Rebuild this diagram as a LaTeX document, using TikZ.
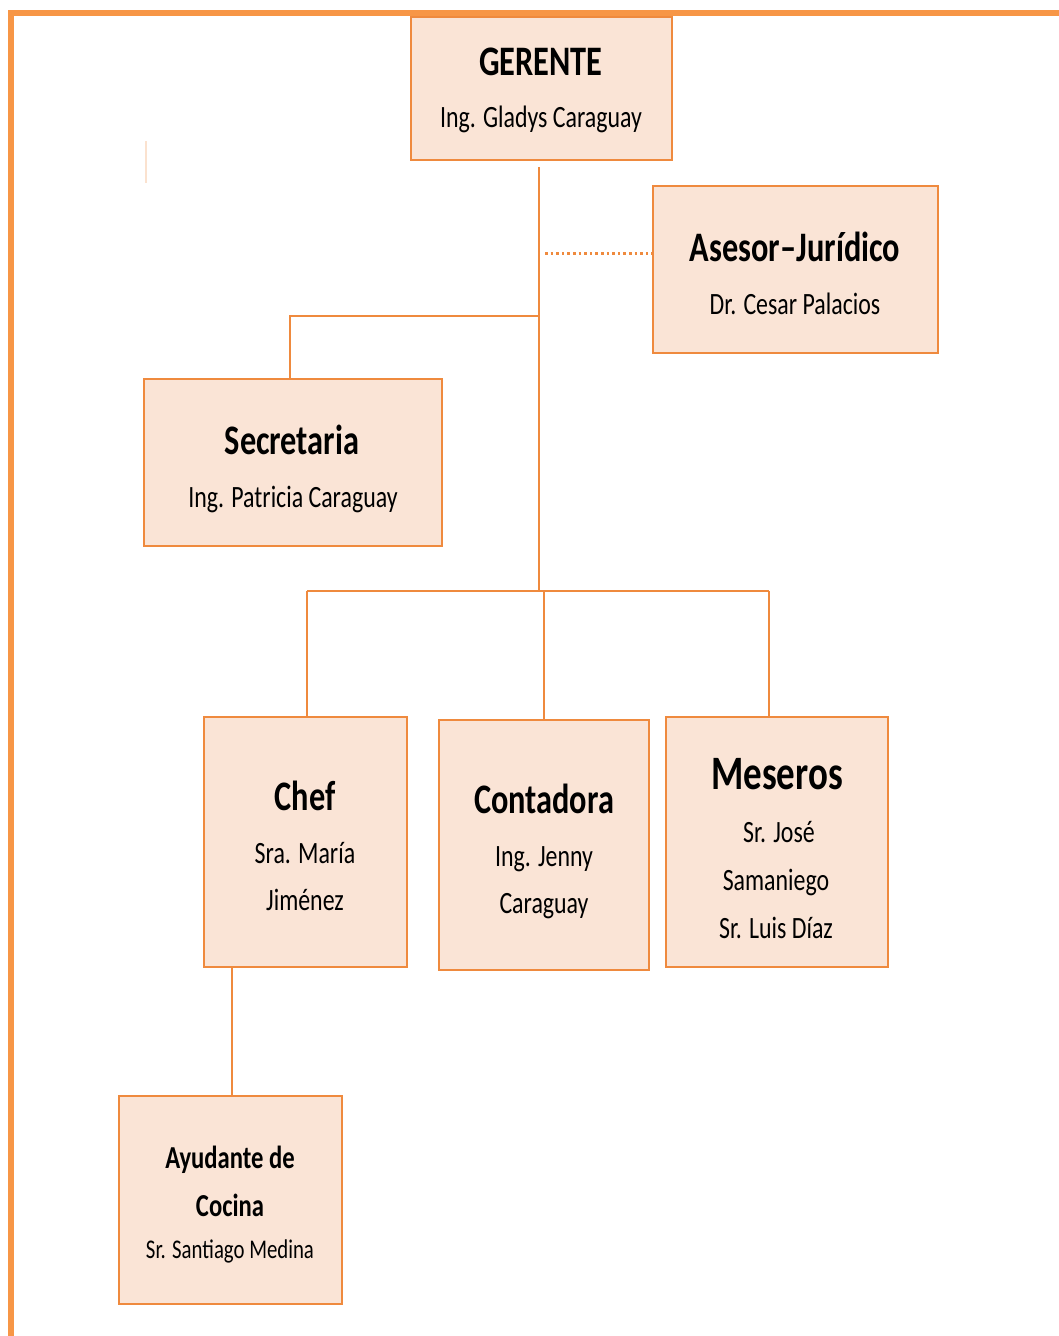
\documentclass[tikz,border=0pt]{standalone}
\usepackage{fontspec}
\setmainfont[FakeStretch=0.77]{Carlito}
\definecolor{frame}{HTML}{F79646}
\definecolor{edge}{HTML}{EF8A3E}
\definecolor{boxfill}{HTML}{FAE4D6}
\definecolor{faint}{HTML}{FBE2CF}
\begin{document}
\begin{tikzpicture}[x=1pt,y=-1pt,
  orgbox/.style={draw=edge,fill=boxfill,line width=2.5pt,inner sep=0pt},
  link/.style={draw=edge,line width=2.5pt},
  dotlink/.style={draw=edge,line width=3pt,dash pattern=on 2.6pt off 3pt},
  ttl/.style={anchor=base,inner sep=0pt,font=\fontsize{42}{48}\selectfont\bfseries},
  nm/.style={anchor=base,inner sep=0pt,font=\fontsize{31}{36}\selectfont}]
\useasboundingbox (0,0) rectangle (1059,1336);
% outer frame
\draw[frame,line width=6pt] (11,1336) -- (11,13) -- (1059,13);
\draw[faint,line width=1.5pt] (146,141) -- (146,183);
% boxes
\node[orgbox,minimum width=261pt,minimum height=143pt] (ger) at (541.5,88.5) {};
\node[orgbox,minimum width=285pt,minimum height=167pt] (ase) at (795.5,269.5) {};
\node[orgbox,minimum width=298pt,minimum height=167pt] (sec) at (293,462.5) {};
\node[orgbox,minimum width=203pt,minimum height=250pt] (chef) at (305.5,842) {};
\node[orgbox,minimum width=210pt,minimum height=250pt] (cont) at (544,845) {};
\node[orgbox,minimum width=222pt,minimum height=250pt] (mes) at (777,842) {};
\node[orgbox,minimum width=223pt,minimum height=208pt] (ayu) at (230.5,1200) {};
% texts
\node[ttl] (gerT) at (541,75) {GERENTE};
\node[nm] (gerN) at (541,127) {Ing. Gladys Caraguay};
\node[ttl] (aseT) at (795,261) {Asesor–Jurídico};
\node[nm] (aseN) at (795,314) {Dr. Cesar Palacios};
\node[ttl] (secT) at (292,454) {Secretaria};
\node[nm] (secN) at (293,507) {Ing. Patricia Caraguay};
\node[ttl] (chefT) at (305,810) {Chef};
\node[nm] (chefN1) at (305,863) {Sra. María};
\node[nm] (chefN2) at (305,910) {Jiménez};
\node[ttl] (contT) at (544,813) {Contadora};
\node[nm] (contN1) at (544,866) {Ing. Jenny};
\node[nm] (contN2) at (544,913) {Caraguay};
\node[ttl,font=\fontsize{48}{54}\selectfont\bfseries] (mesT) at (777,789) {Meseros};
\node[nm] (mesN1) at (779,842) {Sr. José};
\node[nm] (mesN2) at (776,890) {Samaniego};
\node[nm] (mesN3) at (776,938) {Sr. Luis Díaz};
\node[ttl,font=\fontsize{32}{36}\selectfont\bfseries] (ayuT1) at (230,1168) {Ayudante de};
\node[ttl,font=\fontsize{32}{36}\selectfont\bfseries] (ayuT2) at (230,1216) {Cocina};
\node[nm,font=\fontsize{27}{32}\selectfont] (ayuN) at (230,1258) {Sr. Santiago Medina};
% connectors
\coordinate (trunkTop) at (539,167);
\coordinate (trunkBot) at (539,591);
\coordinate (secJoin) at (539,316);
\coordinate (aseJoin) at (545,253);
\path[link] (trunkTop) -- (trunkBot);
\path[dotlink] (aseJoin) -- (ase.west |- aseJoin);
\path[link] (secJoin) -| (sec.north -| 290,0);
\coordinate (barL) at (307,591);
\coordinate (barR) at (769,591);
\path[link] (barL) -- (barR);
\path[link] (barL) -- (chef.north -| barL);
\path[link] (544,591) -- (cont.north);
\path[link] (barR) -- (mes.north -| barR);
\path[link] (chef.south -| 232,0) -- (ayu.north -| 232,0);
\end{tikzpicture}
\end{document}
